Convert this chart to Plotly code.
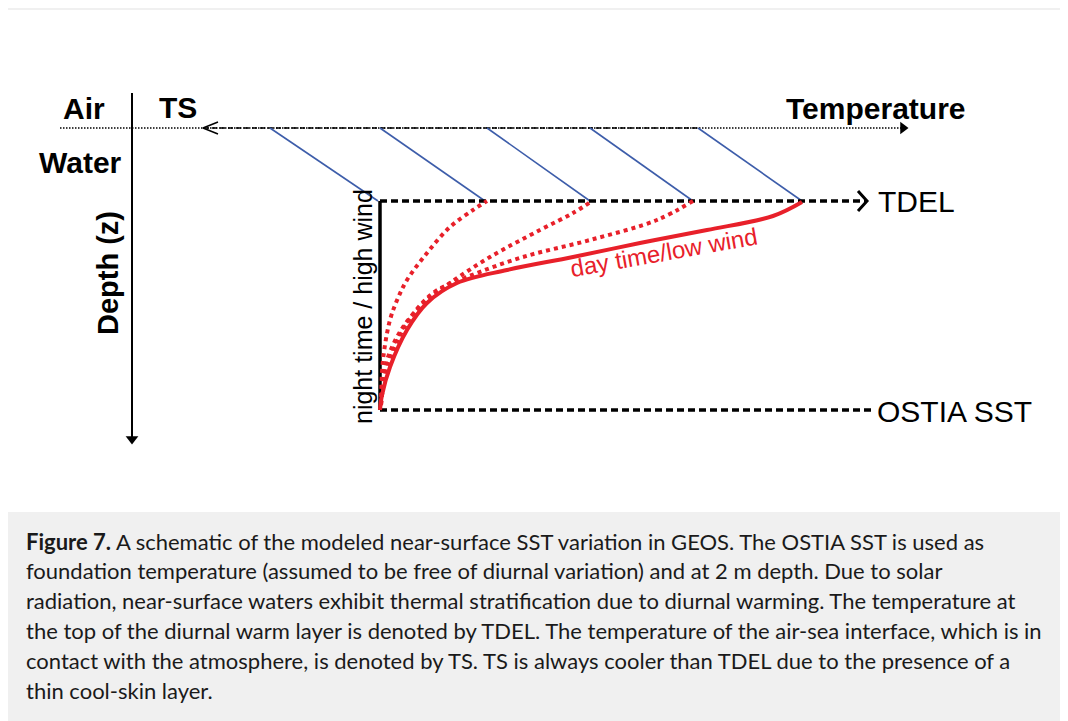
import plotly.graph_objects as go

# schematic drawn in a page-like coordinate system (x to the right, depth downward)
W, H = 1068, 721
PAGE_MARGIN = 8  # default body margin of the html page

# key levels (depth coordinate)
y_surface = 128      # air / water interface (TS)
y_tdel = 201         # top of the diurnal warm layer
y_ostia = 410        # foundation depth (OSTIA SST)

# temperature positions
x_ts_arrow = 203
x_ts_end = 700
x_temp_axis_start = 60
x_temp_axis_tip = 908
x_foundation = 380
x_tdel_end = 866
x_ostia_end = 872

# cool-skin hatch lines: temperature at the surface -> temperature at TDEL
skin_top_x = [270, 380, 487, 590, 698]
skin_bottom_x = [378, 485, 590, 693, 802]

# warm-layer profiles (temperature, depth)
dotted_profiles = [
    ([381, 383, 390, 398, 407, 427, 450, 473, 487],
     [405, 360, 320, 298, 280, 253, 227, 210, 201]),
    ([381, 383, 387, 403, 427, 450, 490, 540, 573, 592],
     [405, 385, 360, 327, 300, 283, 257, 230, 213, 201]),
    ([381, 383, 387, 407, 433, 467, 523, 590, 657, 693],
     [405, 388, 367, 323, 293, 277, 257, 240, 220, 201]),
]
day_x = [380, 382, 390, 407, 427, 457, 507, 573, 640, 707, 773, 802]
day_y = [410, 395, 367, 330, 303, 283, 270, 257, 243, 230, 216, 202]

# depth axis
depth_axis_x = 132
depth_axis_top = 93
depth_axis_tip = 445

caption_lines = [
    "<b>Figure 7.</b> A schematic of the modeled near-surface SST variation in GEOS. The OSTIA SST is used as",
    "foundation temperature (assumed to be free of diurnal variation) and at 2 m depth. Due to solar",
    "radiation, near-surface waters exhibit thermal stratification due to diurnal warming. The temperature at",
    "the top of the diurnal warm layer is denoted by TDEL. The temperature of the air-sea interface, which is in",
    "contact with the atmosphere, is denoted by TS. TS is always cooler than TDEL due to the presence of a",
    "thin cool-skin layer.",
]

RED = "#e8202a"
BLUE = "#3d5daa"
ARIAL = "Liberation Sans, Arial, sans-serif"
CAPTION_FONT = "Lato, sans-serif"

fig = go.Figure()

def add_line(x, y, color="black", width=1.5, dash="solid", shape="linear"):
    fig.add_trace(go.Scatter(x=x, y=y, mode="lines", hoverinfo="skip", showlegend=False,
                             line=dict(color=color, width=width, dash=dash, shape=shape, smoothing=1.0)))

# temperature axis (air / water interface), fine dots
add_line([x_temp_axis_start, x_temp_axis_tip - 6], [y_surface, y_surface], width=1.5, dash="1.5px,1.5px")
fig.add_trace(go.Scatter(x=[x_temp_axis_tip - 5], y=[y_surface], mode="markers", hoverinfo="skip",
                         showlegend=False, marker=dict(symbol="triangle-right", size=11, color="black")))

# TS arrow (dashed, pointing left)
add_line([x_ts_arrow + 1, x_ts_end], [y_surface, y_surface], width=1.5, dash="5px,3px")
add_line([x_ts_arrow + 15, x_ts_arrow, x_ts_arrow + 15], [y_surface - 6, y_surface, y_surface + 6], width=1.5)

# cool-skin hatch lines
hx, hy = [], []
for xt, xb in zip(skin_top_x, skin_bottom_x):
    hx += [xt, xb, None]
    hy += [y_surface, y_tdel, None]
add_line(hx, hy, color=BLUE, width=1.6)

# TDEL and OSTIA levels
add_line([x_foundation, x_tdel_end], [y_tdel, y_tdel], width=3.5, dash="7px,4px")
add_line([x_tdel_end - 8, x_tdel_end + 1, x_tdel_end - 8], [y_tdel - 10, y_tdel, y_tdel + 10], width=3)
add_line([x_foundation, x_ostia_end], [y_ostia, y_ostia], width=3.5, dash="7px,4px")

# night-time / high-wind (well mixed) profile
add_line([x_foundation, x_foundation], [y_tdel, y_ostia], width=3.5)

# warm-layer profiles
for px, py in dotted_profiles:
    add_line(px, py, color=RED, width=4, dash="4px,4px", shape="spline")
add_line(day_x, day_y, color=RED, width=4, shape="spline")

# depth axis
add_line([depth_axis_x, depth_axis_x], [depth_axis_top, depth_axis_tip - 8], width=2)
fig.add_trace(go.Scatter(x=[depth_axis_x], y=[depth_axis_tip - 6], mode="markers", hoverinfo="skip",
                         showlegend=False, marker=dict(symbol="triangle-down", size=11, color="black")))

annotations = [
    dict(x=84, y=108, text="<b>Air</b>", size=30),
    dict(x=178, y=107, text="<b>TS</b>", size=30),
    dict(x=80, y=162, text="<b>Water</b>", size=30),
    dict(x=876, y=108, text="<b>Temperature</b>", size=30),
    dict(x=876, y=201, text="TDEL", size=30, xanchor="left"),
    dict(x=875, y=411, text="OSTIA SST", size=30, xanchor="left"),
    dict(x=108, y=273, text="<b>Depth (z)</b>", size=29, textangle=-90),
    dict(x=363, y=307, text="night time / high wind", size=25, textangle=-90),
    dict(x=663, y=252, text="day time/low wind", size=24, textangle=-10, color=RED),
]
for a in annotations:
    fig.add_annotation(x=a["x"], y=a["y"], xref="x", yref="y", text=a["text"], showarrow=False,
                       xanchor=a.get("xanchor", "center"), yanchor="middle",
                       textangle=a.get("textangle", 0),
                       font=dict(family=ARIAL, size=a["size"], color=a.get("color", "black")))

for i, line in enumerate(caption_lines):
    fig.add_annotation(x=24, y=541 + i * 29.8, xref="x", yref="y", text=line, showarrow=False,
                       xanchor="left", yanchor="middle",
                       font=dict(family=CAPTION_FONT, size=22, color="#1a1a1a"))

# page frame and caption box
fig.update_layout(
    shapes=[
        dict(type="rect", xref="x", yref="y", x0=5, x1=W, y0=8, y1=H, fillcolor="#f0f0f0",
             line=dict(width=0), layer="below"),
        dict(type="rect", xref="x", yref="y", x0=7, x1=W, y0=10, y1=512, fillcolor="white",
             line=dict(width=0), layer="below"),
    ],
    width=W - PAGE_MARGIN, height=H - PAGE_MARGIN,
    margin=dict(l=0, r=0, t=0, b=0),
    paper_bgcolor="white", plot_bgcolor="white",
    xaxis=dict(range=[PAGE_MARGIN, W], visible=False, fixedrange=True),
    yaxis=dict(range=[H, PAGE_MARGIN], visible=False, fixedrange=True),
)

fig.write_html("out.html")
